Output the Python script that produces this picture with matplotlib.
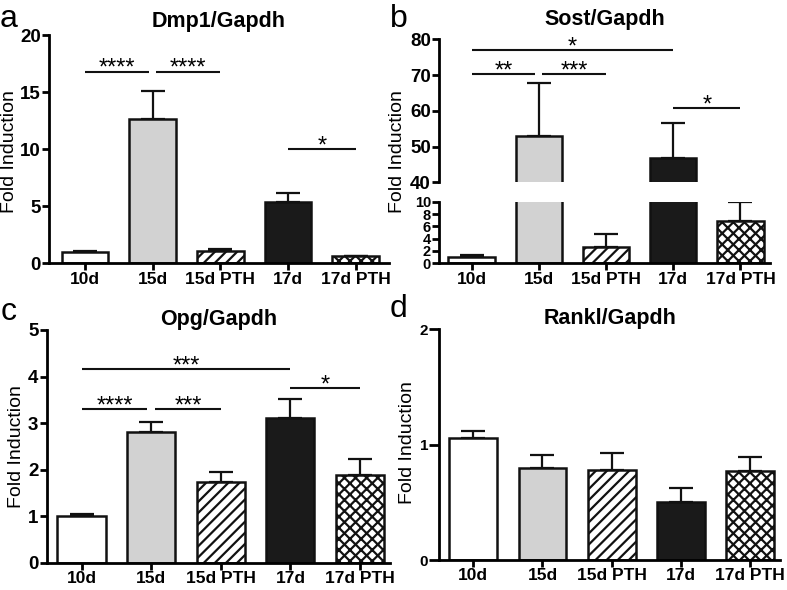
import matplotlib
matplotlib.use('Agg')
import matplotlib.pyplot as plt
import numpy as np

plt.rcParams['font.family'] = ['Liberation Sans', 'DejaVu Sans']
plt.rcParams['font.weight'] = 'bold'
plt.rcParams['hatch.linewidth'] = 1.6
plt.rcParams['hatch.color'] = '#111111'

# ---------------- data ----------------
groups = ['10d', '15d', '15d PTH', '17d', '17d PTH']

dmp1_mean = [1.0, 12.6, 1.1, 5.4, 0.6]
dmp1_sem = [0.05, 2.5, 0.12, 0.75, 0.08]
dmp1_ticks = [0, 5, 10, 15, 20]

sost_mean = [1.0, 53.0, 2.7, 46.7, 6.8]
sost_sem = [0.3, 14.7, 2.0, 9.9, 3.1]
sost_ticks_top = [40, 50, 60, 70, 80]
sost_ticks_bottom = [0, 2, 4, 6, 8, 10]

opg_mean = [1.0, 2.81, 1.74, 3.11, 1.89]
opg_sem = [0.05, 0.22, 0.20, 0.40, 0.33]
opg_ticks = [0, 1, 2, 3, 4, 5]

rankl_mean = [1.06, 0.80, 0.78, 0.50, 0.77]
rankl_sem = [0.06, 0.11, 0.15, 0.12, 0.12]
rankl_ticks = [0, 1, 2]

# significance comparisons: (group i, group j, height, label)
dmp1_sig = [(0, 1, 16.8, '****'), (1, 2, 16.8, '****'), (3, 4, 10.0, '*')]
sost_sig = [(0, 3, 77.0, '*'), (0, 1, 70.2, '**'), (1, 2, 70.2, '***'), (3, 4, 60.9, '*')]
opg_sig = [(0, 3, 4.16, '***'), (0, 1, 3.31, '****'), (1, 2, 3.31, '***'), (3, 4, 3.76, '*')]

# ---------------- style ----------------
fills = ['white', '#d2d2d2', 'white', '#1a1a1a', 'white']
hatches = ['', '', '///', '', 'xxx']
BAR_W = 0.69
LW = 1.8
W, H = 787, 590

fig = plt.figure(figsize=(7.87, 5.9), dpi=100)


def ax_at(l, t, r, b):
    return fig.add_axes([l / W, 1 - b / H, (r - l) / W, (b - t) / H])


def style(ax, ticks, ylim, bottom=True, ytick_size=13.5):
    for s in ['top', 'right']:
        ax.spines[s].set_visible(False)
    ax.spines['left'].set_linewidth(2)
    ax.spines['bottom'].set_linewidth(2)
    ax.set_ylim(*ylim)
    ax.set_yticks(ticks)
    ax.set_yticklabels([str(t) for t in ticks])
    if not bottom:
        ax.spines['bottom'].set_visible(False)
        ax.tick_params(axis='x', bottom=False, labelbottom=False)
    ax.tick_params(axis='both', width=2, length=5, pad=1, direction='out')
    ax.tick_params(axis='y', labelsize=ytick_size)
    ax.tick_params(axis='x', labelsize=12.5)


def draw_bars(ax, mean, sem):
    x = np.arange(len(groups))
    ax.errorbar(x, mean, yerr=[np.zeros(len(mean)), sem], fmt='none',
                ecolor='#111111', elinewidth=1.6, capsize=8.5, capthick=1.6,
                zorder=1.5)
    for i in range(len(groups)):
        ax.bar(x[i], mean[i], width=BAR_W, color=fills[i], edgecolor='#111111',
               linewidth=LW, hatch=hatches[i], zorder=2)
    ax.set_xticks(x)
    ax.set_xticklabels(groups)


def draw_sig(ax, sig):
    gap = 0.055
    for (i, j, y, lab) in sig:
        x0, x1 = float(i), float(j)
        for (i2, j2, y2, _) in sig:
            if y2 == y and j2 == i:
                x0 += gap
            if y2 == y and i2 == j:
                x1 -= gap
        ax.plot([x0, x1], [y, y], color='#111111', lw=1.5, solid_capstyle='butt',
                clip_on=False, zorder=3)
        ax.annotate(lab, xy=((x0 + x1) / 2, y), xytext=(0, -2.5),
                    textcoords='offset points', ha='center', va='baseline',
                    fontsize=17, fontweight='normal', annotation_clip=False)


def ylabel(px, py):
    fig.text(px / W, 1 - py / H, 'Fold Induction', rotation=90, fontsize=14,
             fontweight='normal', ha='center', va='center')


# ---------------- panel a ----------------
axa = ax_at(49, 35, 389, 263.3)
draw_bars(axa, dmp1_mean, dmp1_sem)
axa.set_xlim(-0.53, 4.49)
style(axa, dmp1_ticks, (0, 20))
draw_sig(axa, dmp1_sig)
axa.set_title('Dmp1/Gapdh', fontsize=15.5, fontweight='bold', pad=6)
ylabel(10, 152)

# ---------------- panel b (broken axis) ----------------
axb1 = ax_at(439.3, 39.3, 770, 182.3)
axb2 = ax_at(439.3, 201.7, 770, 263.3)
for ax in (axb1, axb2):
    draw_bars(ax, sost_mean, sost_sem)
    ax.set_xlim(-0.48, 4.44)
style(axb1, sost_ticks_top, (40, 80), bottom=False)
style(axb2, sost_ticks_bottom, (0, 10), ytick_size=10.5)
draw_sig(axb1, sost_sig)
axb1.set_title('Sost/Gapdh', fontsize=15.5, fontweight='bold', pad=10)
ylabel(398, 152)

# ---------------- panel c ----------------
axc = ax_at(46.7, 330, 390, 562.7)
draw_bars(axc, opg_mean, opg_sem)
axc.set_xlim(-0.50, 4.43)
style(axc, opg_ticks, (0, 5))
draw_sig(axc, opg_sig)
axc.set_title('Opg/Gapdh', fontsize=15.5, fontweight='bold', pad=3)
ylabel(16.7, 447)

# ---------------- panel d ----------------
axd = ax_at(439.3, 329.3, 780, 560)
draw_bars(axd, rankl_mean, rankl_sem)
axd.set_xlim(-0.49, 4.43)
style(axd, rankl_ticks, (0, 2), ytick_size=11)
axd.tick_params(axis='y', length=7)
axd.set_title('Rankl/Gapdh', fontsize=15.5, fontweight='bold', pad=3)
ylabel(408, 443)

# ---------------- panel letters ----------------
for lab, (px, py) in zip(['a', 'b', 'c', 'd'],
                         [(0, 27), (390, 27), (1, 320), (390, 317)]):
    fig.text(px / W, 1 - py / H, lab, fontsize=23, fontweight='normal',
             ha='left', va='baseline')

fig.savefig('out.png', dpi=100)
